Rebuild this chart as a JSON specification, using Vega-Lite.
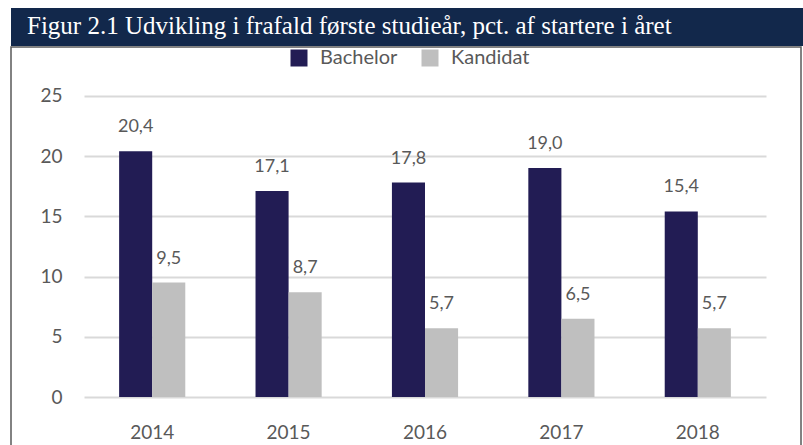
{
  "$schema": "https://vega.github.io/schema/vega-lite/v6.json",
  "padding": {"left": 10, "top": 8, "right": 0, "bottom": 0},
  "background": "white",
  "spacing": 0,
  "config": {
    "locale": {"number": {"decimal": ",", "thousands": ".", "grouping": [3], "currency": ["", " kr."]}},
    "font": "Lato"
  },
  "vconcat": [
    {
      "width": 793,
      "height": 38,
      "view": {"stroke": null},
      "data": {"values": [{"k": 1}]},
      "mark": {"type": "rect", "color": "#12284B"},
      "title": {
        "text": "Figur 2.1 Udvikling i frafald første studieår, pct. af startere i året",
        "anchor": "start",
        "frame": "group",
        "orient": "top",
        "offset": -31,
        "dx": 16,
        "baseline": "top",
        "font": "Liberation Serif",
        "fontSize": 25,
        "fontWeight": "normal",
        "color": "white"
      }
    },
    {
      "width": 790,
      "height": 406,
      "view": {"stroke": "#5A5A5A", "strokeWidth": 1.5},
      "data": {
        "values": [
          {"year": "2014", "series": "Bachelor", "value": 20.4},
          {"year": "2014", "series": "Kandidat", "value": 9.5},
          {"year": "2015", "series": "Bachelor", "value": 17.1},
          {"year": "2015", "series": "Kandidat", "value": 8.7},
          {"year": "2016", "series": "Bachelor", "value": 17.8},
          {"year": "2016", "series": "Kandidat", "value": 5.7},
          {"year": "2017", "series": "Bachelor", "value": 19.0},
          {"year": "2017", "series": "Kandidat", "value": 6.5},
          {"year": "2018", "series": "Bachelor", "value": 15.4},
          {"year": "2018", "series": "Kandidat", "value": 5.7}
        ]
      },
      "encoding": {
        "x": {
          "field": "year",
          "type": "nominal",
          "scale": {"range": [73, 755], "paddingInner": 0.515, "paddingOuter": 0.2575},
          "axis": {
            "title": null,
            "orient": "bottom",
            "offset": -56,
            "domain": false,
            "ticks": false,
            "labelPadding": 26,
            "labelBaseline": "top",
            "labelAngle": 0,
            "labelFontSize": 19,
            "labelColor": "#595959",
            "grid": false
          }
        },
        "xOffset": {"field": "series", "type": "nominal", "sort": ["Bachelor", "Kandidat"]},
        "y": {
          "field": "value",
          "type": "quantitative",
          "scale": {"domain": [0, 25], "range": [350, 48.75], "nice": false},
          "axis": {
            "title": null,
            "orient": "left",
            "offset": -73,
            "values": [0, 5, 10, 15, 20, 25],
            "domain": false,
            "ticks": false,
            "labelPadding": 22,
            "labelFontSize": 19,
            "labelColor": "#595959",
            "grid": true,
            "gridColor": "#D9D9D9",
            "gridWidth": 2
          }
        }
      },
      "layer": [
        {
          "mark": {"type": "bar"},
          "encoding": {
            "color": {
              "field": "series",
              "type": "nominal",
              "scale": {"domain": ["Bachelor", "Kandidat"], "range": ["#221C54", "#BFBFBF"]},
              "legend": {
                "title": null,
                "orient": "none",
                "direction": "horizontal",
                "legendX": 278,
                "legendY": 40,
                "padding": 0,
                "symbolType": "square",
                "symbolSize": 289,
                "symbolStrokeWidth": 0,
                "symbolOpacity": 1,
                "labelFontSize": 20,
                "labelColor": "#595959",
                "labelOffset": 11,
                "columnPadding": 22
              }
            }
          }
        },
        {
          "mark": {"type": "text", "baseline": "bottom", "dy": -15, "fontSize": 18, "color": "#595959"},
          "encoding": {
            "text": {"field": "value", "type": "quantitative", "format": ".1f"}
          }
        }
      ]
    }
  ]
}
